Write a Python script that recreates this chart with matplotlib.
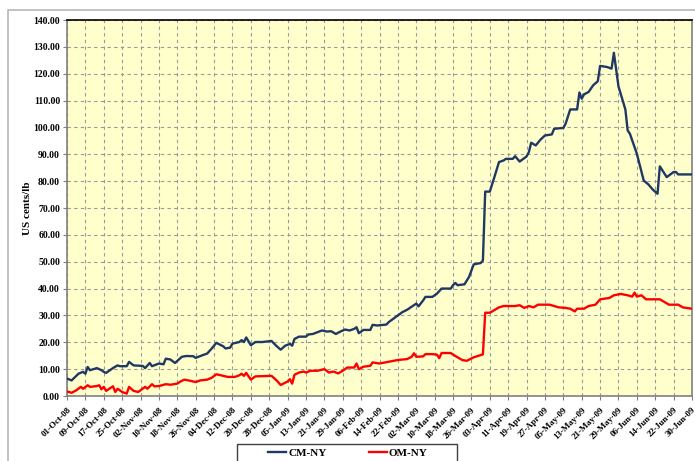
import matplotlib.pyplot as plt
from matplotlib.patches import Rectangle
from matplotlib.transforms import ScaledTranslation

# days counted from 01-Oct-08
cm_days = [0, 2, 5, 7, 8, 9, 10, 13, 15, 16, 17, 20, 22, 23, 26, 27, 29, 33, 34, 36,
           37, 40, 42, 43, 45, 47, 50, 52, 55, 56, 59, 61, 63, 65, 68, 69, 71, 72, 75, 76,
           77, 78, 80, 82, 85, 89, 91, 93, 95, 97, 98, 99, 101, 104, 105, 107, 111, 113, 115, 117,
           119, 121, 123, 125, 126, 127, 129, 132, 133, 135, 139, 140, 142, 144, 146, 148, 152, 153, 155, 156,
           159, 161, 163, 167, 168, 169, 170, 173, 175, 177, 180, 181, 182, 184, 186, 188, 190, 191, 194, 195,
           197, 200, 201, 202, 204, 206, 208, 211, 212, 216, 217, 219, 222, 223, 224, 225, 227, 229, 231, 232,
           235, 237, 238, 240, 243, 244, 245, 248, 251, 253, 255, 257, 258, 261, 264, 265, 266, 272]
cm_ny = [6.5, 5.8, 8.3, 9.0, 8.3, 10.8, 9.6, 10.4, 9.6, 9.0, 8.6, 10.4, 11.4, 11.1, 11.1, 12.7, 11.4, 11.2, 10.4, 12.3,
         11.1, 12.1, 11.8, 13.9, 13.6, 12.3, 14.6, 14.9, 14.8, 14.2, 15.2, 15.8, 17.7, 19.8, 18.5, 17.7, 18.0, 19.5, 20.1, 20.8,
         20.1, 21.8, 18.9, 20.1, 20.1, 20.5, 18.75, 17.25, 18.75, 19.4, 18.75, 21.25, 22.1, 22.1, 22.9, 23.1, 24.4, 24.0, 24.1, 23.1,
         24.0, 24.75, 24.4, 25.0, 25.6, 23.4, 24.6, 24.6, 26.5, 26.25, 26.6, 27.5, 28.75, 30.0, 31.25, 32.1, 34.4, 33.4, 35.6, 36.9,
         36.9, 38.1, 40.0, 40.0, 41.25, 42.1, 41.25, 41.6, 44.4, 49.0, 49.5, 50.4, 76.1, 76.1, 81.5, 87.1, 87.7, 88.3, 88.3, 89.3,
         87.3, 89.2, 90.8, 94.3, 93.3, 95.4, 97.0, 97.4, 99.5, 99.8, 101.4, 106.7, 106.7, 113.0, 110.7, 112.3, 113.2, 115.7, 117.2, 122.9,
         122.5, 121.9, 127.8, 115.3, 106.7, 98.9, 97.6, 90.2, 80.2, 78.8, 76.8, 75.3, 85.5, 81.5, 83.4, 83.4, 82.5, 82.5]

om_days = [0, 2, 4, 6, 7, 9, 10, 13, 14, 15, 16, 17, 20, 21, 22, 24, 26, 27, 29, 31,
           34, 35, 37, 38, 40, 43, 45, 48, 49, 51, 54, 56, 58, 61, 63, 65, 67, 70, 73, 75,
           76, 77, 78, 80, 82, 89, 91, 93, 96, 97, 98, 99, 101, 103, 104, 106, 109, 112, 114, 116,
           118, 120, 122, 125, 126, 127, 129, 132, 133, 136, 140, 144, 148, 150, 151, 152, 155, 156, 159, 161,
           162, 163, 167, 168, 170, 172, 174, 177, 180, 181, 182, 184, 186, 188, 190, 195, 197, 199, 201, 203,
           205, 210, 212, 214, 217, 219, 221, 222, 225, 227, 230, 232, 236, 238, 241, 244, 246, 247, 248, 250,
           252, 256, 258, 260, 262, 266, 268, 272]
om_ny = [1.7, 1.2, 2.1, 3.4, 2.7, 4.0, 3.4, 3.7, 4.0, 2.5, 3.4, 1.9, 3.6, 1.5, 2.7, 1.5, 0.9, 3.4, 1.9, 1.5,
         3.4, 2.7, 4.4, 3.6, 3.7, 4.4, 4.2, 4.6, 5.2, 6.1, 5.6, 5.2, 5.8, 6.1, 6.8, 8.1, 7.7, 7.1, 7.1, 7.7,
         8.3, 7.5, 8.6, 6.1, 7.3, 7.5, 6.0, 4.1, 5.4, 6.25, 4.6, 7.9, 8.75, 9.1, 8.75, 9.4, 9.4, 10.0, 8.75, 9.1,
         8.4, 9.4, 10.6, 10.6, 12.1, 10.0, 10.9, 11.25, 12.5, 12.1, 12.75, 13.4, 13.75, 14.6, 15.9, 14.6, 14.75, 15.6, 15.6, 15.4,
         14.1, 16.0, 16.0, 15.4, 14.4, 13.4, 13.1, 14.4, 15.25, 15.5, 31.0, 31.0, 32.0, 33.0, 33.5, 33.5, 33.8, 32.8, 33.5, 33.0,
         34.0, 34.0, 33.5, 33.0, 32.8, 32.5, 31.5, 32.5, 32.5, 33.5, 34.0, 36.0, 36.5, 37.5, 38.0, 37.5, 37.0, 38.5, 37.0, 37.5,
         36.0, 36.0, 36.0, 35.0, 34.0, 34.0, 33.0, 32.5]

date_labels = ['01-Oct-08', '09-Oct-08', '17-Oct-08', '25-Oct-08', '02-Nov-08', '10-Nov-08', '18-Nov-08',
               '26-Nov-08', '04-Dec-08', '12-Dec-08', '20-Dec-08', '28-Dec-08', '05-Jan-09', '13-Jan-09',
               '21-Jan-09', '29-Jan-09', '06-Feb-09', '14-Feb-09', '22-Feb-09', '02-Mar-09', '10-Mar-09',
               '18-Mar-09', '26-Mar-09', '03-Apr-09', '11-Apr-09', '19-Apr-09', '27-Apr-09', '05-May-09',
               '13-May-09', '21-May-09', '29-May-09', '06-Jun-09', '14-Jun-09', '22-Jun-09', '30-Jun-09']

serif = ['Liberation Serif', 'DejaVu Serif']

fig = plt.figure(figsize=(6.95, 4.61), dpi=100)
W, H = 695, 461

# outer chart frame (runs off the right and bottom edges)
fig.patches.append(Rectangle((8 / W, -0.1), 1.1, 1 - 10 / H + 0.1, transform=fig.transFigure,
                             fill=False, edgecolor='#b8b8b8', linewidth=1.2))

ax = fig.add_axes([67 / W, 1 - 396 / H, 625 / W, 376 / H])
ax.set_facecolor('#FFFFCC')

ax.plot(cm_days, cm_ny, color='#1F3864', linewidth=1.7, label='CM-NY', zorder=3)
ax.plot(om_days, om_ny, color='#FF0000', linewidth=1.7, label='OM-NY', zorder=3)

ax.set_xlim(0, 272)
ax.set_ylim(0, 140)
ax.set_xticks(range(0, 273, 8))
ax.set_xticklabels(date_labels, rotation=45, ha='right', rotation_mode='anchor',
                   fontsize=6.5, fontweight='bold', family=serif)
shift = ScaledTranslation(-2 / 72, 0, fig.dpi_scale_trans)
for lbl in ax.get_xticklabels():
    lbl.set_transform(lbl.get_transform() + shift)
ax.set_yticks(range(0, 141, 10))
ax.set_yticklabels([f'{v:.2f}' for v in range(0, 141, 10)], fontsize=7, fontweight='bold', family=serif)
ax.tick_params(axis='both', length=3, width=0.8, color='#808080', pad=2)
ax.tick_params(axis='x', pad=4)

ax.grid(True, color='#999999', linestyle=(0, (3, 3)), linewidth=0.8)
for side in ['left', 'right', 'bottom']:
    ax.spines[side].set_color('#808080')
    ax.spines[side].set_linewidth(1.2)
ax.spines['top'].set_color('#000000')
ax.spines['top'].set_linewidth(1.2)

fig.text(28 / W, 1 - 208 / H, 'US cents/lb', rotation=90, ha='center', va='center',
         fontsize=8, fontweight='bold', family=serif)

# legend box running off the bottom edge
fig.patches.append(Rectangle((237 / W, -0.05), 220 / W, 1 - 444 / H + 0.05, transform=fig.transFigure,
                             fill=False, edgecolor='#404040', linewidth=1.0))
fig.legend(loc='center', bbox_to_anchor=(348 / W, 1 - 453 / H), ncol=2, frameon=False,
           prop={'family': serif, 'weight': 'bold', 'size': 8}, handlelength=1.6,
           handletextpad=0.2, columnspacing=3.8)

fig.savefig('out.png', dpi=100)
